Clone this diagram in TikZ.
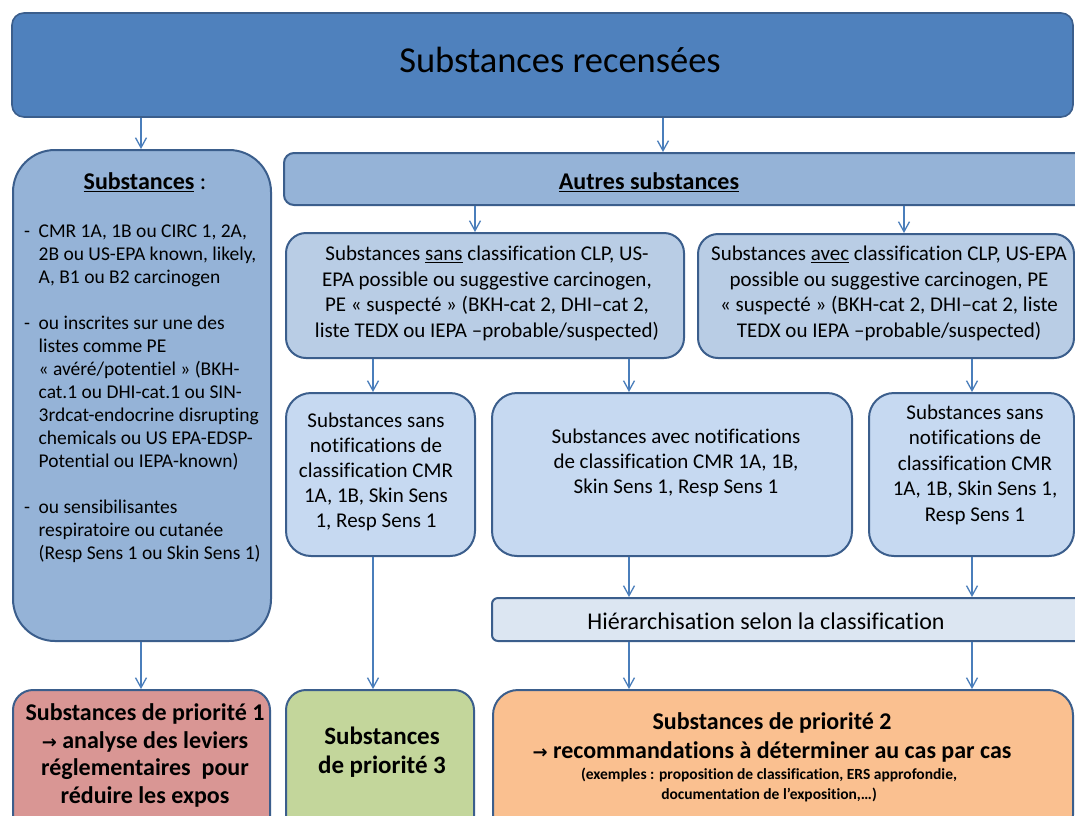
\documentclass[tikz,border=0pt]{standalone}
\usepackage{fontspec}
\setmainfont{Carlito}[Ligatures={NoCommon}]
\newfontfamily\arrowfnt{DejaVu Sans}[Scale=0.75]
\usetikzlibrary{arrows.meta}
\definecolor{topblue}{HTML}{4F81BD}
\definecolor{midblue}{HTML}{95B3D7}
\definecolor{lightblue}{HTML}{B9CDE5}
\definecolor{paleblue}{HTML}{C6D9F1}
\definecolor{palerblue}{HTML}{DCE6F2}
\definecolor{bordblue}{HTML}{3B5E8C}
\definecolor{arrblue}{HTML}{4A7EBB}
\definecolor{prio1}{HTML}{D99694}
\definecolor{prio3}{HTML}{C3D69B}
\definecolor{prio2}{HTML}{FAC090}
\tikzset{
  boxnode/.style={draw=bordblue, line width=2pt, inner sep=0pt, rectangle},
  arr/.style={draw=arrblue, line width=1.3pt, -{Straight Barb[length=10pt,width=11pt]}},
  txt/.style={align=center, inner sep=0pt, text=black},
}
\begin{document}
\begin{tikzpicture}[x=1pt,y=-1pt]
\useasboundingbox (0,0) rectangle (1075,815);
\clip (0,0) rectangle (1075,815);
\fill[white] (0,0) rectangle (1075,815);
% boxes
\node[boxnode, fill=topblue, rounded corners=12pt, minimum width=1061pt, minimum height=104pt, line width=1.6pt] (top) at (542.5,65) {};
\node[boxnode, fill=midblue, rounded corners=42pt, minimum width=258pt, minimum height=491pt] (left) at (142,395.5) {};
\node[boxnode, fill=midblue, rounded corners=10pt, minimum width=806pt, minimum height=52pt] (autres) at (687,179) {};
\node[boxnode, fill=lightblue, rounded corners=20pt, minimum width=398pt, minimum height=125pt] (sanscl) at (485,295.5) {};
\node[boxnode, fill=lightblue, rounded corners=20pt, minimum width=376pt, minimum height=124pt] (aveccl) at (886,296) {};
\node[boxnode, fill=paleblue, rounded corners=25pt, minimum width=189pt, minimum height=163pt] (notifl) at (380.5,474.5) {};
\node[boxnode, fill=paleblue, rounded corners=25pt, minimum width=360pt, minimum height=163pt] (notifm) at (672,474.5) {};
\node[boxnode, fill=paleblue, rounded corners=25pt, minimum width=205pt, minimum height=163pt] (notifr) at (971.5,474.5) {};
\node[boxnode, fill=palerblue, rounded corners=6pt, minimum width=598pt, minimum height=43pt] (hier) at (791,619.5) {};
\node[boxnode, fill=prio1, rounded corners=20pt, minimum width=257pt, minimum height=150pt] (red) at (141.5,765) {};
\node[boxnode, fill=prio3, rounded corners=20pt, minimum width=188pt, minimum height=150pt] (green) at (380,765) {};
\node[boxnode, fill=prio2, rounded corners=25pt, minimum width=580pt, minimum height=150pt] (orange) at (783,765) {};
% arrow x positions
\coordinate (xa) at (141,0);
\coordinate (xb) at (663,0);
\coordinate (xc) at (475,0);
\coordinate (xd) at (904,0);
\coordinate (xe) at (373,0);
\coordinate (xf) at (629,0);
\coordinate (xg) at (972,0);
% connectors
\draw[arr] (top.south -| xa) -- (left.north -| xa);
\draw[arr] (top.south -| xb) -- (autres.north -| xb);
\draw[arr] (autres.south -| xc) -- (sanscl.north -| xc);
\draw[arr] (autres.south -| xd) -- (aveccl.north -| xd);
\draw[arr] (sanscl.south -| xe) -- (notifl.north -| xe);
\draw[arr] (sanscl.south -| xf) -- (notifm.north -| xf);
\draw[arr] (aveccl.south -| xg) -- (notifr.north -| xg);
\draw[arr] (notifm.south -| xf) -- (hier.north -| xf);
\draw[arr] (notifr.south -| xg) -- (hier.north -| xg);
\draw[arr] (left.south -| xa) -- (red.north -| xa);
\draw[arr] (notifl.south -| xe) -- (green.north -| xe);
\draw[arr] (hier.south -| xf) -- (orange.north -| xf);
\draw[arr] (hier.south -| xg) -- (orange.north -| xg);
% texts
\node[txt, font=\fontsize{36.5}{42}\selectfont] (toptxt) at (560,60) {Substances recensées};
\node[txt, font=\fontsize{24}{28}\selectfont\bfseries] (autrestxt) at (649,182) {\underline{Autres substances}};
\node[txt, font=\fontsize{24}{28}\selectfont] (lefttitle) at (145,182) {\textbf{\underline{Substances}} :};
\node[anchor=base west, inner sep=0pt, font=\fontsize{19.5}{23}\selectfont] (leftlist) at (24,237) {%
\begin{tabular}[t]{@{}l@{\hspace{8.5pt}}l@{}}
-&CMR 1A, 1B ou CIRC 1, 2A,\\
&2B ou US-EPA known, likely,\\
&A, B1 ou B2 carcinogen\\
&\\
-&ou inscrites sur une des\\
&listes comme PE\\
&« avéré/potentiel » (BKH-\\
&cat.1 ou DHI-cat.1 ou SIN-\\
&3rdcat-endocrine disrupting\\
&chemicals ou US EPA-EDSP-\\
&Potential ou IEPA-known)\\
&\\
-&ou sensibilisantes\\
&respiratoire ou cutanée\\
&(Resp Sens 1 ou Skin Sens 1)
\end{tabular}};
\node[txt, font=\fontsize{21}{25.7}\selectfont] (sanscltxt) at (487,293.5) {Substances \underline{sans} classification CLP, US-\\EPA possible ou suggestive carcinogen,\\PE « suspecté » (BKH-cat 2, DHI–cat 2,\\liste TEDX ou IEPA –probable/suspected)};
\node[txt, font=\fontsize{21}{25.7}\selectfont] (aveccltxt) at (889,293.5) {Substances \underline{avec} classification CLP, US-EPA\\possible ou suggestive carcinogen, PE\\« suspecté » (BKH-cat 2, DHI–cat 2, liste\\TEDX ou IEPA –probable/suspected)};
\node[txt, font=\fontsize{21}{25}\selectfont] (notifltxt) at (376,472) {Substances sans\\notifications de\\classification CMR\\1A, 1B, Skin Sens\\1, Resp Sens 1};
\node[txt, font=\fontsize{21}{25}\selectfont] (notifmtxt) at (676,463) {Substances avec notifications\\de classification CMR 1A, 1B,\\Skin Sens 1, Resp Sens 1};
\node[txt, font=\fontsize{21}{25.5}\selectfont] (notifrtxt) at (975,464.5) {Substances sans\\notifications de\\classification CMR\\1A, 1B, Skin Sens 1,\\Resp Sens 1};
\node[txt, font=\fontsize{24}{28}\selectfont] (hiertxt) at (766,621) {Hiérarchisation selon la classification};
\node[txt, font=\fontsize{24}{27.7}\selectfont\bfseries] (redtxt) at (145,755.5) {Substances de priorité 1\\{\arrowfnt →} analyse des leviers\\réglementaires\ \ pour\\réduire les expos};
\node[txt, font=\fontsize{25}{29}\selectfont\bfseries] (greentxt) at (382,752.5) {Substances\\de priorité 3};
\node[txt, font=\fontsize{24}{29}\selectfont\bfseries] (orangetxt) at (772,737.5) {Substances de priorité 2\\{\arrowfnt →} recommandations à déterminer au cas par cas};
\node[txt, font=\fontsize{15.5}{20}\selectfont\bfseries] (orangesmall) at (769,785) {(exemples : proposition de classification, ERS approfondie,\\documentation de l’exposition,…)};
\end{tikzpicture}
\end{document}
